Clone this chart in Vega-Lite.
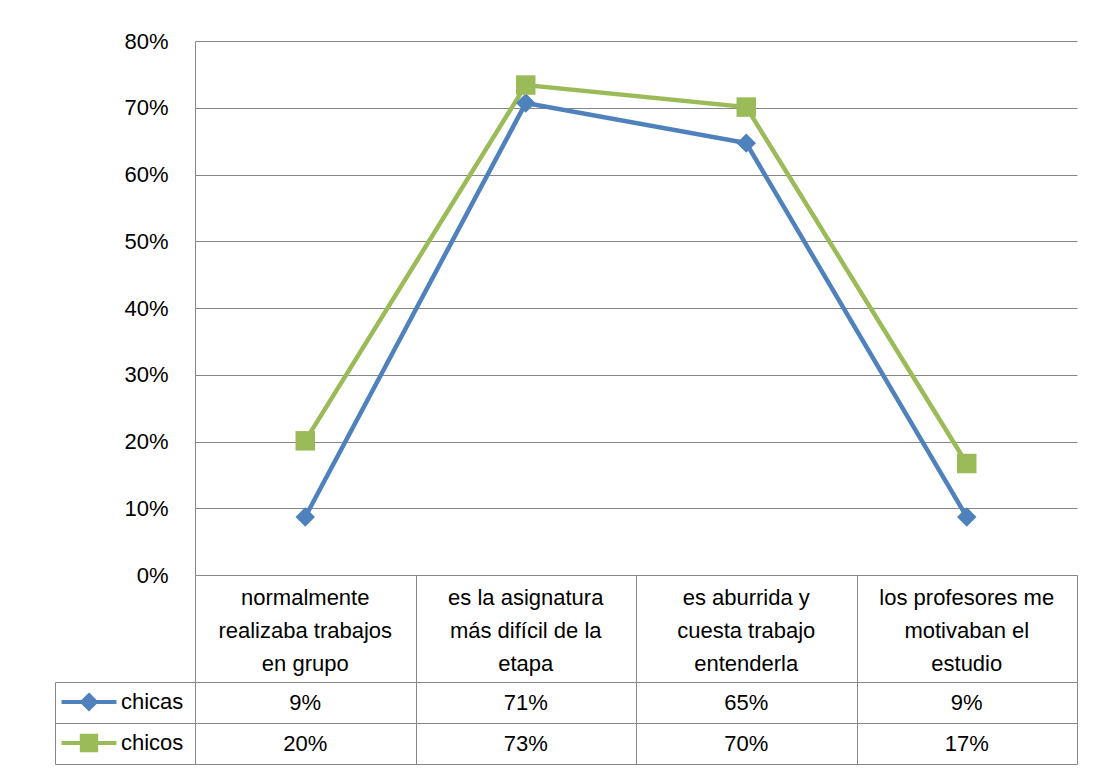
{
  "$schema": "https://vega.github.io/schema/vega-lite/v6.json",
  "background": "white",
  "padding": {"left": 54, "top": 30, "right": 17, "bottom": 5},
  "config": {
    "font": "Liberation Sans",
    "view": {"stroke": null},
    "axis": {"labelFont": "Liberation Sans", "titleFont": "Liberation Sans"},
    "legend": {"labelFont": "Liberation Sans"}
  },
  "datasets": {
    "d": [
      {"cat": "normalmente realizaba trabajos en grupo", "label": "normalmente\nrealizaba trabajos\nen grupo", "series": "chicas", "value": 0.087},
      {"cat": "es la asignatura más difícil de la etapa", "label": "es la asignatura\nmás difícil de la\netapa", "series": "chicas", "value": 0.707},
      {"cat": "es aburrida y cuesta trabajo entenderla", "label": "es aburrida y\ncuesta trabajo\nentenderla", "series": "chicas", "value": 0.647},
      {"cat": "los profesores me motivaban el estudio", "label": "los profesores me\nmotivaban el\nestudio", "series": "chicas", "value": 0.087},
      {"cat": "normalmente realizaba trabajos en grupo", "label": "normalmente\nrealizaba trabajos\nen grupo", "series": "chicos", "value": 0.201},
      {"cat": "es la asignatura más difícil de la etapa", "label": "es la asignatura\nmás difícil de la\netapa", "series": "chicos", "value": 0.734},
      {"cat": "es aburrida y cuesta trabajo entenderla", "label": "es aburrida y\ncuesta trabajo\nentenderla", "series": "chicos", "value": 0.701},
      {"cat": "los profesores me motivaban el estudio", "label": "los profesores me\nmotivaban el\nestudio", "series": "chicos", "value": 0.167}
    ]
  },
  "spacing": 0,
  "bounds": "flush",
  "resolve": {
    "scale": {"color": "independent", "shape": "independent", "fill": "independent", "stroke": "independent"},
    "legend": {"color": "independent", "shape": "independent", "fill": "independent", "stroke": "independent"}
  },
  "vconcat": [
    {
      "width": 882,
      "height": 534,
      "data": {"name": "d"},
      "encoding": {
        "x": {
          "field": "cat", "type": "nominal", "bandPosition": 0.5,
          "sort": ["normalmente realizaba trabajos en grupo", "es la asignatura más difícil de la etapa", "es aburrida y cuesta trabajo entenderla", "los profesores me motivaban el estudio"],
          "scale": {"paddingInner": 0, "paddingOuter": 0},
          "axis": null
        },
        "y": {
          "field": "value", "type": "quantitative",
          "scale": {"domain": [0, 0.8], "nice": false, "zero": true},
          "axis": {
            "values": [0, 0.1, 0.2, 0.3, 0.4, 0.5, 0.6, 0.7, 0.8],
            "format": ".0%", "title": null, "grid": true, "gridColor": "#878787", "gridWidth": 1,
            "domainColor": "#878787", "ticks": false, "labelPadding": 27, "labelFontSize": 22,
            "labelColor": "black", "labelFlush": false, "labelOverlap": false
          }
        },
        "color": {
          "field": "series", "type": "nominal",
          "scale": {"domain": ["chicas", "chicos"], "range": ["#4F81BD", "#9BBB59"]},
          "legend": null
        }
      },
      "layer": [
        {"mark": {"type": "line", "strokeWidth": 4.5}},
        {
          "mark": {"type": "point", "filled": true, "size": 380, "opacity": 1},
          "encoding": {
            "shape": {
              "field": "series", "type": "nominal",
              "scale": {"domain": ["chicas", "chicos"], "range": ["diamond", "square"]},
              "legend": null
            }
          }
        }
      ]
    },
    {
      "width": 882,
      "height": 107,
      "data": {"name": "d"},
      "transform": [{"filter": "datum.series == 'chicas'"}],
      "mark": {"type": "text", "fontSize": 22, "lineHeight": 33, "lineBreak": "\n", "baseline": "middle", "align": "center", "color": "black", "dy": -31},
      "encoding": {
        "x": {
          "field": "cat", "type": "nominal",
          "sort": ["normalmente realizaba trabajos en grupo", "es la asignatura más difícil de la etapa", "es aburrida y cuesta trabajo entenderla", "los profesores me motivaban el estudio"],
          "scale": {"paddingInner": 0, "paddingOuter": 0},
          "axis": {"labels": false, "ticks": false, "domain": false, "grid": true, "tickBand": "extent", "gridColor": "#878787", "title": null}
        },
        "text": {"field": "label", "type": "nominal"}
      }
    },
    {
      "width": 882,
      "height": 82,
      "data": {"name": "d"},
      "layer": [
        {
          "mark": {"type": "text", "fontSize": 22, "baseline": "middle", "align": "center", "color": "black"},
          "encoding": {
            "x": {
              "field": "cat", "type": "nominal",
              "sort": ["normalmente realizaba trabajos en grupo", "es la asignatura más difícil de la etapa", "es aburrida y cuesta trabajo entenderla", "los profesores me motivaban el estudio"],
              "scale": {"paddingInner": 0, "paddingOuter": 0},
              "axis": {"labels": false, "ticks": false, "domain": false, "grid": true, "tickBand": "extent", "gridColor": "#878787", "title": null}
            },
            "y": {
              "field": "series", "type": "nominal", "sort": ["chicas", "chicos"],
              "scale": {"paddingInner": 0, "paddingOuter": 0},
              "axis": {
                "orient": "left", "offset": 140, "labels": false, "tickBand": "extent", "tickSize": -140,
                "tickColor": "#878787", "domainColor": "#878787", "grid": true, "gridColor": "#878787", "title": null
              }
            },
            "text": {"field": "value", "type": "quantitative", "format": ".0%"}
          }
        },
        {
          "transform": [{"filter": "false"}],
          "mark": {"type": "point", "filled": true, "opacity": 1},
          "encoding": {
            "fill": {
              "field": "series", "type": "nominal",
              "scale": {"domain": ["chicas", "chicos"], "range": ["#4F81BD", "#9BBB59"]},
              "legend": {"orient": "none", "legendX": -117, "legendY": 9, "title": null, "padding": 0, "rowPadding": 10, "symbolSize": 324, "symbolStrokeWidth": 4, "symbolOpacity": 1, "labelFontSize": 22, "labelOffset": 21, "labelColor": "black", "labelBaseline": "middle"}
            },
            "stroke": {
              "field": "series", "type": "nominal",
              "scale": {"domain": ["chicas", "chicos"], "range": ["#4F81BD", "#9BBB59"]},
              "legend": {"orient": "none", "legendX": -117, "legendY": 9, "title": null, "padding": 0, "rowPadding": 10, "symbolSize": 324, "symbolStrokeWidth": 4, "symbolOpacity": 1, "labelFontSize": 22, "labelOffset": 21, "labelColor": "black", "labelBaseline": "middle"}
            },
            "shape": {
              "field": "series", "type": "nominal",
              "scale": {"domain": ["chicas", "chicos"], "range": ["M-3.05,0H3.05M0,-0.75L0.75,0L0,0.75L-0.75,0Z", "M-3.05,0H3.05M-0.8,-0.8H0.8V0.8H-0.8Z"]},
              "legend": {"orient": "none", "legendX": -117, "legendY": 9, "title": null, "padding": 0, "rowPadding": 10, "symbolSize": 324, "symbolStrokeWidth": 4, "symbolOpacity": 1, "labelFontSize": 22, "labelOffset": 21, "labelColor": "black", "labelBaseline": "middle"}
            }
          }
        }
      ]
    }
  ]
}
